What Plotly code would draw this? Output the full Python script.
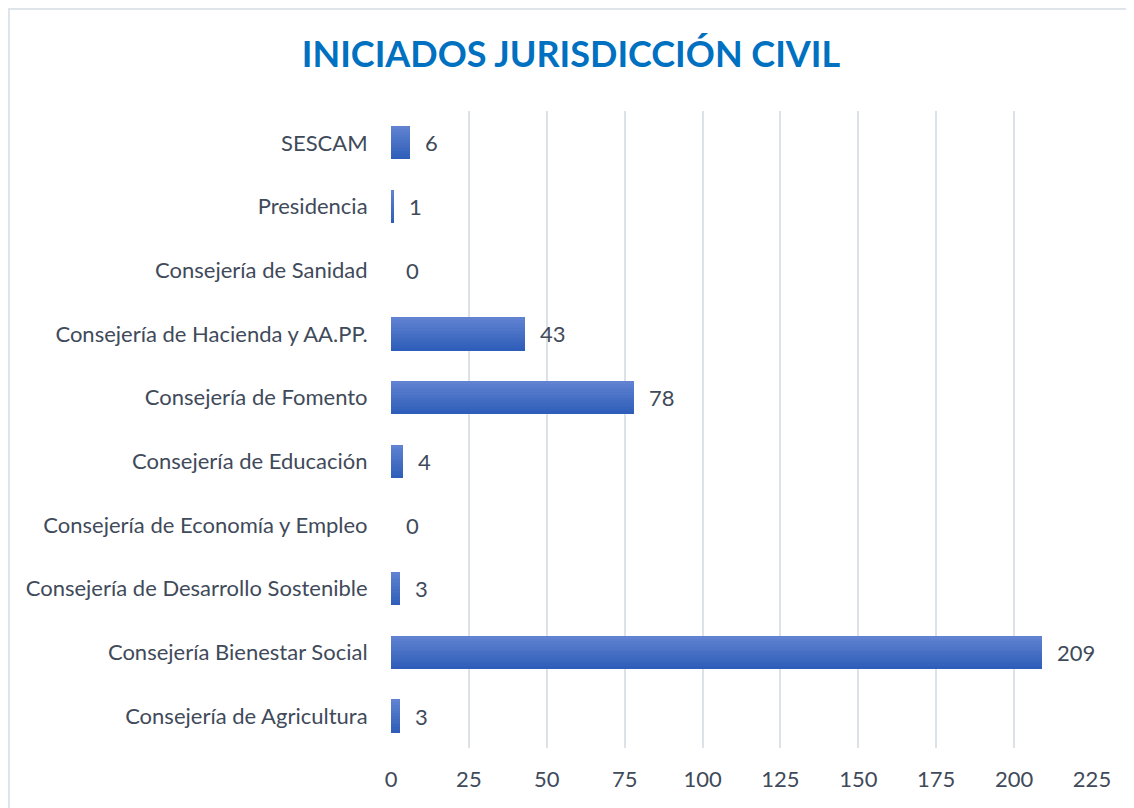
import plotly.graph_objects as go

categories = [
    "Consejería de Agricultura",
    "Consejería Bienestar Social",
    "Consejería de Desarrollo Sostenible",
    "Consejería de Economía y Empleo",
    "Consejería de Educación",
    "Consejería de Fomento",
    "Consejería de Hacienda y AA.PP.",
    "Consejería de Sanidad",
    "Presidencia",
    "SESCAM",
]
values = [3, 209, 3, 0, 4, 78, 43, 0, 1, 6]
x_ticks = [0, 25, 50, 75, 100, 125, 150, 175, 200, 225]

FONT = "Lato"
TXT = "#3f4a5a"
FS = 22

W, H = 1126, 800
ML, MR, MT, MB = 383, 42, 103, 60
PW, PH = W - ML - MR, H - MT - MB

fig = go.Figure()

# gradient bars: stacked slices across bar thickness (bottom dark -> top light)
K = 12
bar_w = 0.52
dark = (46, 94, 185)
light = (96, 130, 208)
for i in range(K):
    t = i / (K - 1)
    c = tuple(round(dark[j] + (light[j] - dark[j]) * t) for j in range(3))
    fig.add_trace(go.Bar(
        y=categories, x=values, orientation="h",
        width=bar_w / K + 0.002, offset=-bar_w / 2 + i * bar_w / K,
        marker=dict(color="rgb(%d,%d,%d)" % c, line=dict(width=0)),
        showlegend=False, hoverinfo="skip",
    ))

for cat, v in zip(categories, values):
    fig.add_annotation(x=v, y=cat, text=str(v), showarrow=False,
                       xanchor="left", xshift=13,
                       font=dict(family=FONT, size=FS, color=TXT))

fig.update_layout(
    width=W, height=H,
    margin=dict(l=ML, r=MR, t=MT, b=MB),
    paper_bgcolor="white", plot_bgcolor="white",
    barmode="overlay", bargap=0,
    title=dict(text="<b>INICIADOS JURISDICCIÓN CIVIL</b>", x=0.5, xanchor="center",
               y=1 - 46 / H, yanchor="middle",
               font=dict(family=FONT, size=36, color="#0070C0")),
    font=dict(family=FONT, size=FS, color=TXT),
    xaxis=dict(range=[0, 225], tickvals=x_ticks, showgrid=True,
               gridcolor="#dde1e8", gridwidth=2, zeroline=False,
               showline=False, ticks="outside", ticklen=12,
               tickcolor="rgba(0,0,0,0)",
               tickfont=dict(family=FONT, size=FS, color=TXT)),
    yaxis=dict(categoryorder="array", categoryarray=categories,
               range=[-0.5, 9.5], showgrid=False, zeroline=False,
               showline=False, ticks="outside", ticklen=18,
               tickcolor="rgba(0,0,0,0)",
               tickfont=dict(family=FONT, size=FS, color=TXT)),
    shapes=[dict(type="rect", xref="paper", yref="paper",
                 x0=-(ML - 1) / PW, x1=1 + (MR - 6) / PW,
                 y0=-(MB + 20) / PH, y1=1 + (MT - 1) / PH,
                 line=dict(color="#dfe3ea", width=2), fillcolor="rgba(0,0,0,0)",
                 layer="below")],
)

fig.write_html("out.html")
